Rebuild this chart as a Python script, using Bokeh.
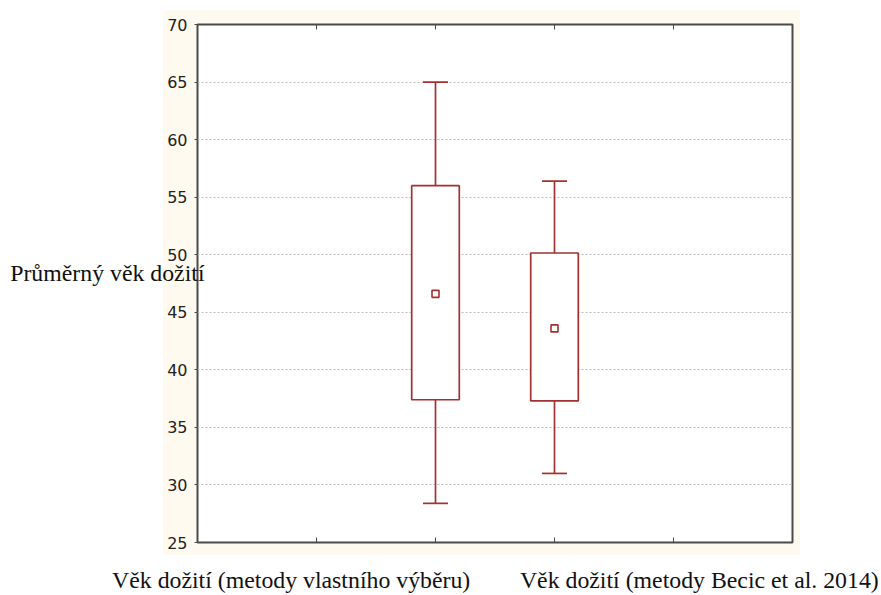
from jinja2 import Template
from bokeh.plotting import figure
from bokeh.models import Range1d, LinearAxis, FixedTicker
from bokeh.embed import file_html
from bokeh.resources import INLINE

# ---- data ----
categories = ["Věk dožití (metody vlastního výběru)", "Věk dožití (metody Becic et al. 2014)"]
y_title = "Průměrný věk dožití"
whisker_low = [28.4, 31.0]
box_low = [37.4, 37.3]
mean_val = [46.6, 43.6]
box_high = [56.0, 50.15]
whisker_high = [65.0, 56.4]
y_ticks = [25, 30, 35, 40, 45, 50, 55, 60, 65, 70]
x_ticks = [1, 2, 3, 4]

# ---- layout / style ----
x_pos = [2, 3]
cat_label_pos = [0.787, 4.217]
y_title_pos = 48.4
box_w = 0.4
cap_w = 0.21
RED = "#a33131"
FRAME = "#4a4a4a"
SERIF = "Liberation Serif"
SERIF_SIZE = "23.8px"

p = figure(width=881, height=595, output_backend="svg", toolbar_location=None,
           x_range=Range1d(0, 5), y_range=Range1d(25, 70),
           min_border_left=197, min_border_right=89, min_border_top=24, min_border_bottom=52)
p.border_fill_color = None
p.background_fill_color = "white"
p.outline_line_color = FRAME
p.outline_line_width = 2

# y axis (numbers)
p.yaxis.ticker = FixedTicker(ticks=y_ticks)
p.yaxis.axis_line_color = None
p.yaxis.major_tick_out = 3
p.yaxis.major_tick_in = 0
p.yaxis.major_tick_line_color = FRAME
p.yaxis.minor_tick_line_color = None
p.yaxis.major_label_text_font = "DejaVu Sans"
p.yaxis.major_label_text_font_size = "16px"
p.yaxis.major_label_text_color = "#222222"
p.yaxis.major_label_standoff = 7

# y title as a second left axis
ytitle_axis = LinearAxis(ticker=FixedTicker(ticks=[y_title_pos]),
                         major_label_overrides={y_title_pos: y_title},
                         axis_line_color=None, major_tick_line_color=None,
                         minor_tick_line_color=None,
                         major_label_text_font=SERIF, major_label_text_font_size=SERIF_SIZE,
                         major_label_text_color="#111111", major_label_standoff=-46)
p.add_layout(ytitle_axis, "left")

# bottom axis: inner ticks (minor) + category captions (major labels)
p.xaxis.ticker = FixedTicker(ticks=cat_label_pos, minor_ticks=x_ticks)
p.xaxis.major_label_overrides = {cat_label_pos[0]: categories[0], cat_label_pos[1]: categories[1]}
p.xaxis.axis_line_color = None
p.xaxis.major_tick_line_color = None
p.xaxis.minor_tick_in = 5
p.xaxis.minor_tick_out = 0
p.xaxis.minor_tick_line_color = FRAME
p.xaxis.major_label_text_font = SERIF
p.xaxis.major_label_text_font_size = SERIF_SIZE
p.xaxis.major_label_text_color = "#111111"
p.xaxis.major_label_standoff = 18

top_axis = LinearAxis(ticker=FixedTicker(ticks=[], minor_ticks=x_ticks), axis_line_color=None,
                      major_tick_line_color=None, minor_tick_in=5, minor_tick_out=0,
                      minor_tick_line_color=FRAME)
p.add_layout(top_axis, "above")

# grid
p.xgrid.grid_line_color = None
p.ygrid.ticker = FixedTicker(ticks=y_ticks[1:-1])
p.ygrid.grid_line_color = "#bdbdbd"
p.ygrid.grid_line_dash = "2 2"
p.ygrid.grid_line_width = 1

# whiskers
p.segment(x0=x_pos, y0=box_high, x1=x_pos, y1=whisker_high, line_color=RED, line_width=1.7)
p.segment(x0=x_pos, y0=whisker_low, x1=x_pos, y1=box_low, line_color=RED, line_width=1.7)
caps_x0 = [x - cap_w / 2 for x in x_pos]
caps_x1 = [x + cap_w / 2 for x in x_pos]
p.segment(x0=caps_x0, y0=whisker_high, x1=caps_x1, y1=whisker_high, line_color=RED, line_width=1.7)
p.segment(x0=caps_x0, y0=whisker_low, x1=caps_x1, y1=whisker_low, line_color=RED, line_width=1.7)

# boxes
p.vbar(x=x_pos, width=box_w, bottom=box_low, top=box_high,
       fill_color="white", line_color=RED, line_width=1.7)

# mean markers
p.scatter(x=x_pos, y=mean_val, marker="square", size=7,
          fill_color="white", line_color=RED, line_width=1.6)

# page: cream panel behind the plot area (like the reference)
template = Template("""{% extends base %}
{% block preamble %}<style>html, body { margin: 0; padding: 0;
background: linear-gradient(#fffaef, #fffaef) 163px 10px / 637px 545px no-repeat, #ffffff; }</style>{% endblock %}
""")

open("out.html", "w").write(file_html(p, INLINE, template=template))
